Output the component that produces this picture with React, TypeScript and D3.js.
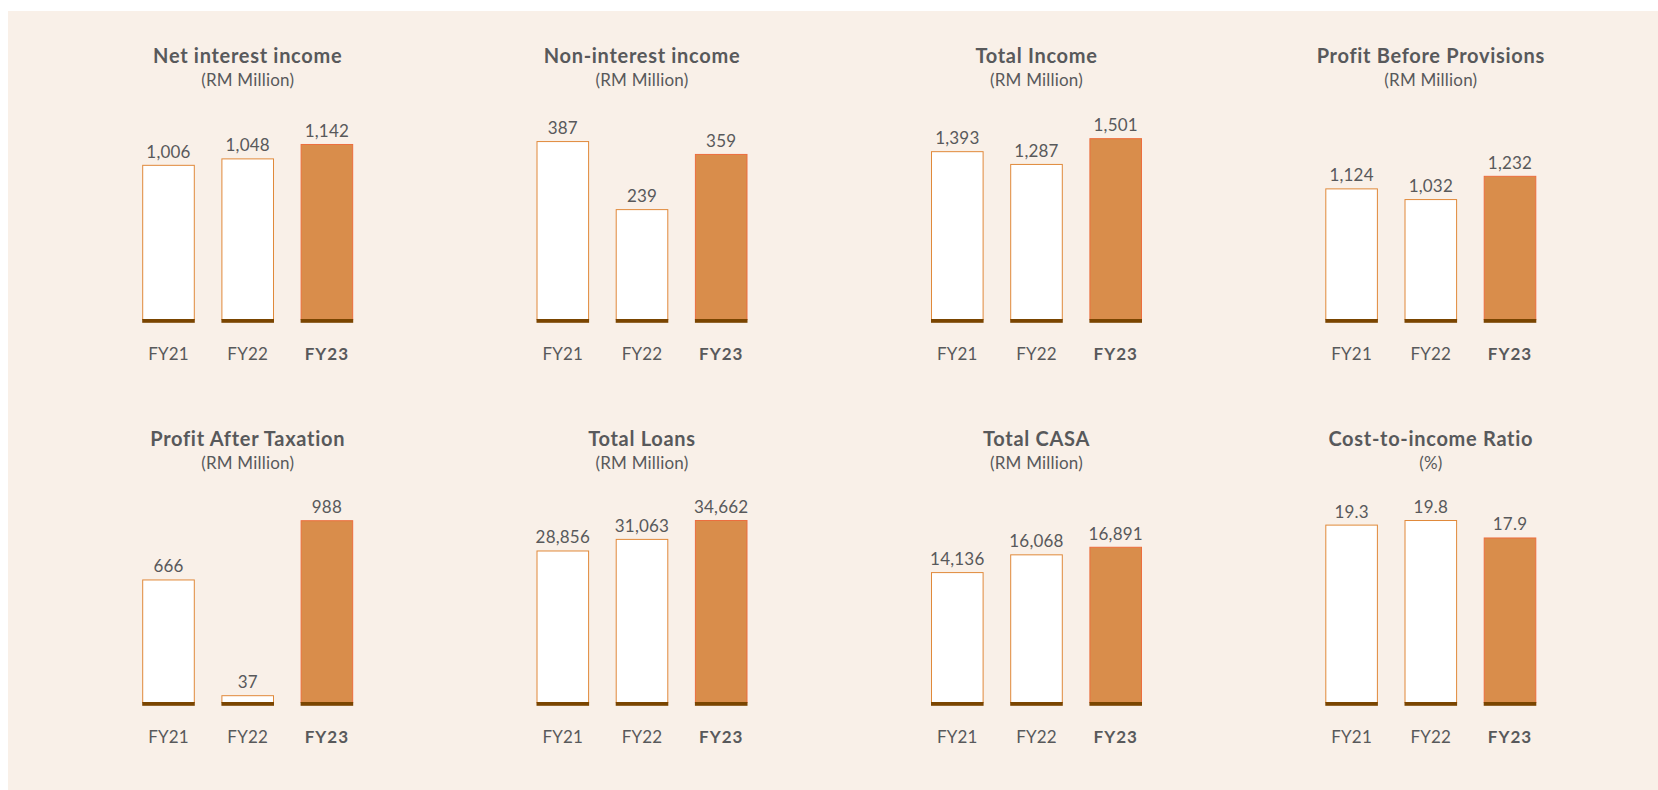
import React from "react";
import * as d3 from "d3";

// ---------- data ----------
const years = ["FY21", "FY22", "FY23"];
const highlightYear = "FY23";

const titles = [
  "Net interest income",
  "Non-interest income",
  "Total Income",
  "Profit Before Provisions",
  "Profit After Taxation",
  "Total Loans",
  "Total CASA",
  "Cost-to-income Ratio",
];
const units = [
  "(RM Million)",
  "(RM Million)",
  "(RM Million)",
  "(RM Million)",
  "(RM Million)",
  "(RM Million)",
  "(RM Million)",
  "(%)",
];

const netInterestIncome = [1006, 1048, 1142];
const nonInterestIncome = [387, 239, 359];
const totalIncome = [1393, 1287, 1501];
const profitBeforeProvisions = [1124, 1032, 1232];
const profitAfterTaxation = [666, 37, 988];
const totalLoans = [28856, 31063, 34662];
const totalCASA = [14136, 16068, 16891];
const costToIncomeRatio = [19.3, 19.8, 17.9];

const seriesValues = [
  netInterestIncome,
  nonInterestIncome,
  totalIncome,
  profitBeforeProvisions,
  profitAfterTaxation,
  totalLoans,
  totalCASA,
  costToIncomeRatio,
];
// upper end of each panel's value scale (each panel has its own scale)
const scaleMax = [1305, 435, 1660, 1721, 1087, 38090, 21763, 21.76];
const valueFormats = [",", ",", ",", ",", ",", ",", ",", ".1f"];

// ---------- layout / style ----------
const W = 1658;
const H = 790;
const BG = "#f9f0e8";
const TEXT = "#58595b";
const FONT = "Lato, 'Open Sans', sans-serif";
const colCenters = [247.7, 642, 1036.5, 1430.8];
const bandTops = [319, 702];
const plotH = 200;
const step = 79.2;

function Panel({ idx }: { idx: number }) {
  const row = Math.floor(idx / 4);
  const col = idx % 4;
  const cx = colCenters[col];
  const base = bandTops[row];
  const values = seriesValues[idx];

  const x = d3
    .scaleBand<string>()
    .domain(years)
    .range([cx - (step * 3) / 2, cx + (step * 3) / 2])
    .paddingInner(0.336)
    .paddingOuter(0.168);
  const y = d3.scaleLinear().domain([0, scaleMax[idx]]).range([base, base - plotH]);
  const fmt = d3.format(valueFormats[idx]);
  const bw = x.bandwidth();

  const titleY = base - 256.3;

  return (
    <g>
      <text
        x={cx}
        y={titleY}
        textAnchor="middle"
        fontFamily={FONT}
        fontWeight={700}
        fontSize={20}
        letterSpacing={0.7}
        fill={TEXT}
      >
        {titles[idx]}
      </text>
      <text
        x={cx}
        y={titleY + 23.5}
        textAnchor="middle"
        fontFamily={FONT}
        fontSize={17}
        letterSpacing={0.2}
        fill={TEXT}
      >
        {units[idx]}
      </text>
      {years.map((yr, i) => {
        const v = values[i];
        const x0 = x(yr)!;
        const top = y(v);
        const hl = yr === highlightYear;
        return (
          <g key={yr}>
            <rect
              x={x0 + 0.5}
              y={top + 0.5}
              width={bw - 1}
              height={base - top}
              fill={hl ? "#d98d4b" : "#ffffff"}
              stroke={hl ? "#ec6e3e" : "#e0893a"}
              strokeWidth={1}
            />
            <rect x={x0} y={base} width={bw} height={3.8} fill="#7a4500" />
            <text
              x={x0 + bw / 2}
              y={top - 7}
              textAnchor="middle"
              fontFamily={FONT}
              fontSize={17}
              letterSpacing={0.2}
              fill={TEXT}
            >
              {fmt(v)}
            </text>
            <text
              x={x0 + bw / 2}
              y={base + 41}
              textAnchor="middle"
              fontFamily={FONT}
              fontSize={17}
              fontWeight={hl ? 700 : 400}
              letterSpacing={hl ? 1 : 0.2}
              fill={TEXT}
            >
              {yr}
            </text>
          </g>
        );
      })}
    </g>
  );
}

export default function App() {
  return (
    <>
      <style>{`html,body{margin:0;padding:0;overflow:hidden;background:#fff}`}</style>
      <svg width={W} height={H} style={{ display: "block" }}>
        <rect x={8} y={11} width={W - 8} height={H - 11} fill={BG} />
        {titles.map((_, i) => (
          <Panel key={i} idx={i} />
        ))}
      </svg>
    </>
  );
}
